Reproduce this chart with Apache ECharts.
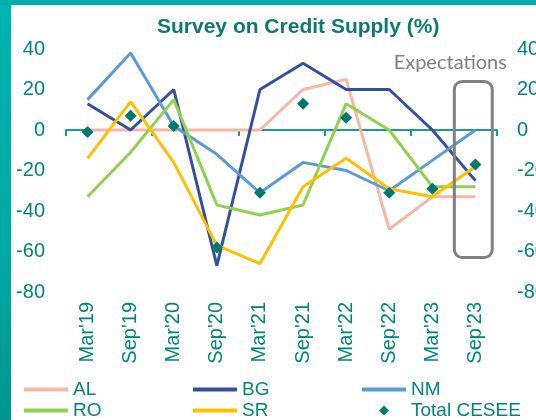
<!DOCTYPE html>
<html><head><meta charset="utf-8">
<script src="https://cdn.jsdelivr.net/npm/echarts@6/dist/echarts.min.js"></script>
<style>html,body{margin:0;padding:0;background:#fff}#c{width:536px;height:420px}</style>
</head><body><div id="c"></div>
<script>
const categories = ["Mar'19","Sep'19","Mar'20","Sep'20","Mar'21","Sep'21","Mar'22","Sep'22","Mar'23","Sep'23"];
const AL = [0, 0, 0, 0, 0, 20, 25, -49, -33, -33];
const BG = [13, 0, 20, -67, 20, 33, 20, 20, 0, -25];
const NM = [15, 38, 2, -12, -31, -16, -20, -30, -15, 0];
const RO = [-33, -11, 15, -37, -42, -37, 13, 0, -28, -28];
const SR = [-14, 14, -16, -57, -66, -28, -14, -29, -33, -18];
const TOTAL = [-1, 7, 2, -58, -31, 13, 6, -31, -29, -17];
const yMin = -80, yMax = 40, yStep = 20;
const expectationsCategory = "Sep'23";
const expectationsTop = 24, expectationsBottom = -63;

const TEAL = '#00857E';
const FONT = '"Liberation Sans", Arial, sans-serif';
const chart = echarts.init(document.getElementById('c'), null, {renderer: 'canvas'});

// icons: invisible zero-length subpaths pin the bounding box to 44x10
const lineIcon = 'path://M0,0L0,0M44,10L44,10M0,3H44V7H0Z';
const diamondIcon = 'path://M0,0L0,0M44,10L44,10M22,0L27,5L22,10L17,5Z';
function legendCfg(items, left) {
  return {
    data: items.map(n => ({name: n, icon: n === 'Total CESEE' ? diamondIcon : lineIcon})),
    left: left, top: 380, orient: 'vertical', padding: 0,
    itemWidth: 44, itemHeight: 10, itemGap: 2,
    selectedMode: false,
    textStyle: {fontSize: 19, color: TEAL, fontFamily: FONT, lineHeight: 19}
  };
}
function lineSeries(name, data, color) {
  return {name, type: 'line', data, symbol: 'none', xAxisIndex: 0, yAxisIndex: 0,
    lineStyle: {color, width: 3}, itemStyle: {color}, animation: false, z: 2};
}

chart.setOption({
  animation: false,
  title: {text: 'Survey on Credit Supply (%)', left: 157, top: 17, padding: 0,
    textStyle: {fontSize: 21, fontWeight: 'bold', color: '#0B7A72', fontFamily: FONT}},
  grid: {left: 66, right: 39, top: 49, bottom: 128, containLabel: false, outerBoundsMode: 'none'},
  legend: [legendCfg(['AL', 'RO'], 24), legendCfg(['BG', 'SR'], 193), legendCfg(['NM', 'Total CESEE'], 362)],
  xAxis: [
    {type: 'category', data: categories, position: 'bottom',
      axisLine: {show: false, onZero: false}, axisTick: {show: false},
      axisLabel: {rotate: 90, margin: 10, fontSize: 20, color: TEAL, fontFamily: FONT, interval: 0}},
    {type: 'category', data: categories, position: 'bottom',
      axisLine: {show: true, onZero: true, lineStyle: {color: '#1A9A93', width: 2}},
      axisTick: {show: true, length: 6, lineStyle: {color: '#1A9A93', width: 2}},
      axisLabel: {show: false}}
  ],
  yAxis: [
    {type: 'value', min: yMin, max: yMax, interval: yStep, position: 'left',
      splitLine: {show: false}, axisLine: {show: false}, axisTick: {show: false},
      axisLabel: {margin: 21, fontSize: 20, color: TEAL, fontFamily: FONT}},
    {type: 'value', min: yMin, max: yMax, interval: yStep, position: 'right',
      splitLine: {show: false}, axisLine: {show: false}, axisTick: {show: false},
      axisLabel: {margin: 20, fontSize: 20, color: TEAL, fontFamily: FONT}}
  ],
  series: [
    lineSeries('AL', AL, '#F4B8A4'),
    lineSeries('BG', BG, '#34509C'),
    lineSeries('NM', NM, '#5B9BD5'),
    lineSeries('RO', RO, '#92D050'),
    lineSeries('SR', SR, '#FFC000'),
    {name: 'Total CESEE', type: 'scatter', data: TOTAL, symbol: 'diamond', symbolSize: 12,
      itemStyle: {color: '#00786F', opacity: 1}, z: 5, xAxisIndex: 0, yAxisIndex: 0}
  ]
});

// Annotation box around the expectations period, positioned from the axes
const cx = chart.convertToPixel({xAxisIndex: 0}, expectationsCategory);
const c0 = chart.convertToPixel({xAxisIndex: 0}, categories[0]);
const c1 = chart.convertToPixel({xAxisIndex: 0}, categories[1]);
const band = c1 - c0;
const yTop = chart.convertToPixel({yAxisIndex: 0}, expectationsTop);
const yBot = chart.convertToPixel({yAxisIndex: 0}, expectationsBottom);
const boxW = band * 0.88;
const boxCx = cx - band * 0.05;

chart.setOption({
  graphic: [
    {type: 'rect', left: 0, top: 0, z: 100, shape: {x: 0, y: 0, width: 11, height: 420},
      style: {fill: new echarts.graphic.LinearGradient(0, 0, 0, 1, [
        {offset: 0, color: '#00B4AF'}, {offset: 0.6, color: '#00A9A3'}, {offset: 1, color: '#00968F'}])}},
    {type: 'rect', left: 0, top: 0, z: 100, shape: {x: 0, y: 0, width: 536, height: 5},
      style: {fill: '#00AFAA'}},
    {type: 'rect', z: 50, shape: {x: boxCx - boxW / 2, y: yTop, width: boxW, height: yBot - yTop, r: 8},
      style: {fill: 'none', stroke: '#808080', lineWidth: 3}},
    {type: 'text', z: 50, x: boxCx - 23, y: yTop - 19,
      style: {text: 'Expectations', fill: '#7F7F7F', font: '20px Lato, "Open Sans", sans-serif',
        textAlign: 'center', textVerticalAlign: 'middle'}}
  ]
});
</script></body></html>
